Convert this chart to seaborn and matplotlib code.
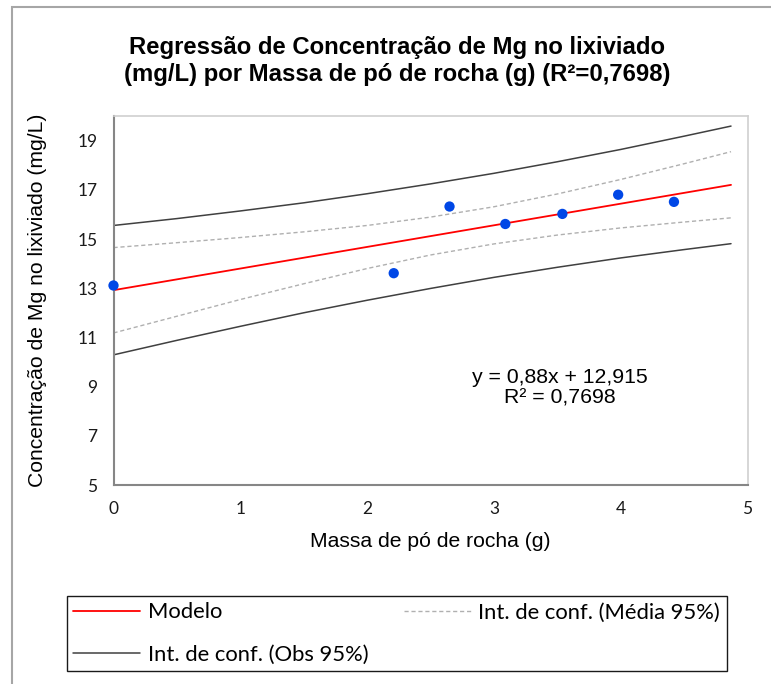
import numpy as np
import pandas as pd
import matplotlib
matplotlib.use("Agg")
import matplotlib.pyplot as plt
import seaborn as sns
from matplotlib.patches import Rectangle

# pontos observados
massa = [0.0, 2.21, 2.65, 3.09, 3.54, 3.98, 4.42]
conc_mg = [13.11, 13.61, 16.32, 15.61, 16.02, 16.80, 16.51]

modelo_x = [0.0, 4.87]
modelo_y = [12.92, 17.20]

# intervalos de confiança
ic_x = [0.0, 0.5, 1.0, 1.5, 2.0, 2.5, 3.0, 3.5, 4.0, 4.5, 4.87]
media_inf = [11.18, 11.86, 12.54, 13.18, 13.80, 14.35, 14.80, 15.16, 15.45, 15.69, 15.86]
media_sup = [14.65, 14.85, 15.06, 15.29, 15.55, 15.89, 16.31, 16.83, 17.42, 18.06, 18.55]
obs_inf = [10.29, 10.88, 11.45, 12.00, 12.51, 12.99, 13.44, 13.85, 14.23, 14.57, 14.81]
obs_sup = [15.55, 15.83, 16.14, 16.47, 16.84, 17.24, 17.67, 18.14, 18.64, 19.18, 19.59]

df = pd.DataFrame({'x': massa, 'y': conc_mg})
ic = pd.DataFrame({'x': ic_x, 'mi': media_inf, 'ms': media_sup, 'oi': obs_inf, 'os': obs_sup})
mod = pd.DataFrame({'x': modelo_x, 'y': modelo_y})

sns.set_style('white')
plt.rcParams['font.family'] = ['Liberation Sans', 'DejaVu Sans']
plt.rcParams['text.color'] = 'black'
plt.rcParams['axes.labelcolor'] = 'black'

fig = plt.figure(figsize=(7.71, 6.84), dpi=100)
ax = fig.add_axes([113.5/771, 1-485/684, (747.5-113.5)/771, (485-116)/684])

sns.lineplot(data=ic, x='x', y='os', ax=ax, color='#404040', lw=1.1, label='Int. de conf. (Obs 95%)')
sns.lineplot(data=ic, x='x', y='oi', ax=ax, color='#404040', lw=1.1, label='_nolegend_')
sns.lineplot(data=ic, x='x', y='ms', ax=ax, color='#b0b0b0', lw=1.0, ls=(0, (3, 2)),
             label='Int. de conf. (Média 95%)')
sns.lineplot(data=ic, x='x', y='mi', ax=ax, color='#b0b0b0', lw=1.0, ls=(0, (3, 2)), label='_nolegend_')
sns.lineplot(data=mod, x='x', y='y', ax=ax, color='#ff0000', lw=1.3, label='Modelo')
sns.scatterplot(data=df, x='x', y='y', ax=ax, color='#0047e6', s=55, edgecolor='none',
                zorder=5, clip_on=False, legend=False)

ax.set_xlim(0, 5)
ax.set_ylim(5, 20)
ax.set_xticks(range(0, 6))
ax.set_yticks(range(5, 20, 2))
for s in ['left', 'bottom']:
    ax.spines[s].set_color('#868686')
    ax.spines[s].set_linewidth(1.5)
for s in ['top', 'right']:
    ax.spines[s].set_color('#d0d0d0')
    ax.spines[s].set_linewidth(1.2)
ax.tick_params(direction='inout', length=9, width=1.3, color='#868686', pad=7,
               labelsize=12.5, labelcolor='#1a1a1a')
for lab in ax.get_xticklabels() + ax.get_yticklabels():
    lab.set_family(['Lato', 'DejaVu Sans'])

ax.set_xlabel('Massa de pó de rocha (g)', fontsize=15.2, labelpad=11)
ax.set_ylabel('Concentração de Mg no lixiviado (mg/L)', fontsize=15.2, labelpad=22)

ax.text(3.52, 8.95, 'y = 0,88x + 12,915\nR² = 0,7698', ha='center', va='center',
        fontsize=15.3, linespacing=1.15)

fig.text(397/771, 1-61/684, 'Regressão de Concentração de Mg no lixiviado\n'
         '(mg/L) por Massa de pó de rocha (g) (R²=0,7698)',
         ha='center', va='center', fontsize=17.2, fontweight='bold', linespacing=1.25)

h, l = ax.get_legend_handles_labels()
ax.get_legend().remove()
order = [l.index('Modelo'), l.index('Int. de conf. (Obs 95%)'), l.index('Int. de conf. (Média 95%)')]
fig.legend([h[i] for i in order], [l[i] for i in order], ncol=2, mode='expand',
           loc='lower left', bbox_to_anchor=(66.7/771, 1-671/684, 660/771, 85.3/684),
           frameon=True, fancybox=False, edgecolor='#1a1a1a', framealpha=1,
           prop={'family': ['Lato', 'DejaVu Sans'], 'size': 15.8},
           handlelength=3.05, handletextpad=0.35, borderpad=0.3, labelspacing=1.0,
           borderaxespad=0)

fig.add_artist(Rectangle((11.7/771, -0.2), 1.5, 1.2 - 7.3/684, transform=fig.transFigure,
                         fill=False, ec='#a6a6a6', lw=1.5))

fig.savefig('out.png', dpi=100)
